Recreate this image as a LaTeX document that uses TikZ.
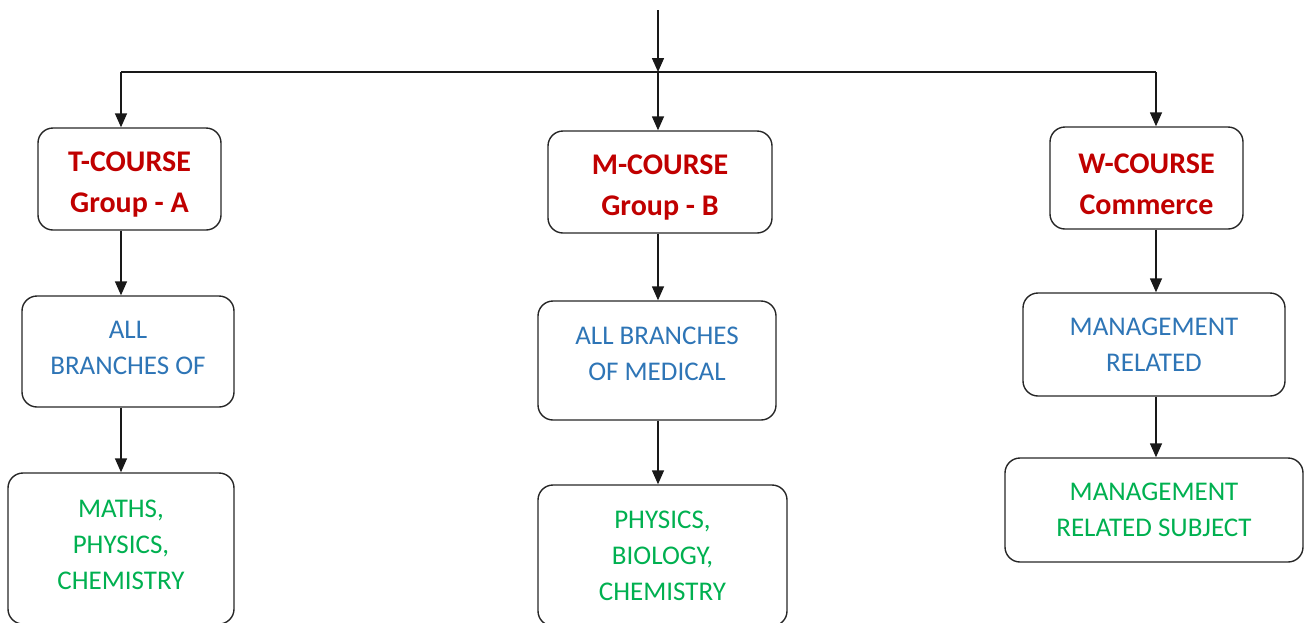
\documentclass[tikz,border=0pt]{standalone}
\usepackage{fontspec}
\setmainfont{Carlito}
\usetikzlibrary{arrows.meta}
\definecolor{headred}{HTML}{C00000}
\definecolor{subblue}{HTML}{2E75B6}
\definecolor{subgreen}{HTML}{00B050}
\newcommand\headstrut{\rule{0pt}{31.5pt}}
\begin{document}
\begin{tikzpicture}[x=1pt,y=-1pt,
  box/.style={draw=black!85, line width=1.4pt, rounded corners=15pt, align=center, inner sep=0pt},
  headbox/.style={box, text=headred, font=\fontsize{30}{41}\selectfont\bfseries},
  bluebox/.style={box, text=subblue, font=\fontsize{27}{36}\selectfont},
  greenbox/.style={box, text=subgreen, font=\fontsize{27}{36}\selectfont},
  raise/.style={execute at end node={\rule[-#1]{0pt}{0pt}}},
  conn/.style={line width=1.5pt, draw=black!90},
  arr/.style={conn, -{Triangle[length=14pt,width=12pt]}}]
\useasboundingbox (0,0) rectangle (1305,622);
\clip (0,0) rectangle (1305,622);
% columns
\coordinate (cA) at (121,0);
\coordinate (cM) at (658,0);
\coordinate (cW) at (1156,0);
\coordinate (top) at (658,10);
\coordinate (bar) at (658,72);
\coordinate (barA) at (121,72);
\coordinate (barW) at (1156,72);
% nodes
\node[headbox, minimum width=183pt, minimum height=102pt] (tA) at (129.5,179) {\headstrut T-COURSE\\Group - A};
\node[headbox, minimum width=224pt, minimum height=102pt] (tM) at (660,182) {\headstrut M-COURSE\\Group - B};
\node[headbox, minimum width=193pt, minimum height=102pt] (tW) at (1146.5,178) {\headstrut W-COURSE\\Commerce};
\node[bluebox, raise=7pt, minimum width=212pt, minimum height=111pt] (bA) at (128,351.5) {ALL\\BRANCHES OF};
\node[bluebox, raise=13pt, minimum width=238pt, minimum height=119pt] (bM) at (657,360.5) {ALL BRANCHES\\OF MEDICAL};
\node[bluebox, minimum width=262pt, minimum height=103pt] (bW) at (1154,344.5) {MANAGEMENT\\RELATED};
\node[greenbox, raise=8pt, minimum width=226pt, minimum height=151pt] (gA) at (121,548.5) {MATHS,\\PHYSICS,\\CHEMISTRY};
\node[greenbox, minimum width=249pt, minimum height=141pt] (gM) at (662.5,555.5) {PHYSICS,\\BIOLOGY,\\CHEMISTRY};
\node[greenbox, minimum width=298pt, minimum height=104pt] (gW) at (1154,510) {MANAGEMENT\\RELATED SUBJECT};
% connectors
\draw[arr] (top) -- (bar);
\draw[conn] (barA) -- (barW);
\draw[arr] (barA) -- (tA.north -| cA);
\draw[arr] (bar) -- (tM.north -| cM);
\draw[arr] (barW) -- (tW.north -| cW);
\draw[arr] (tA.south -| cA) -- (bA.north -| cA);
\draw[arr] (tM.south -| cM) -- (bM.north -| cM);
\draw[arr] (tW.south -| cW) -- (bW.north -| cW);
\draw[arr] (bA.south -| cA) -- (gA.north -| cA);
\draw[arr] (bM.south -| cM) -- (gM.north -| cM);
\draw[arr] (bW.south -| cW) -- (gW.north -| cW);
\end{tikzpicture}
\end{document}
